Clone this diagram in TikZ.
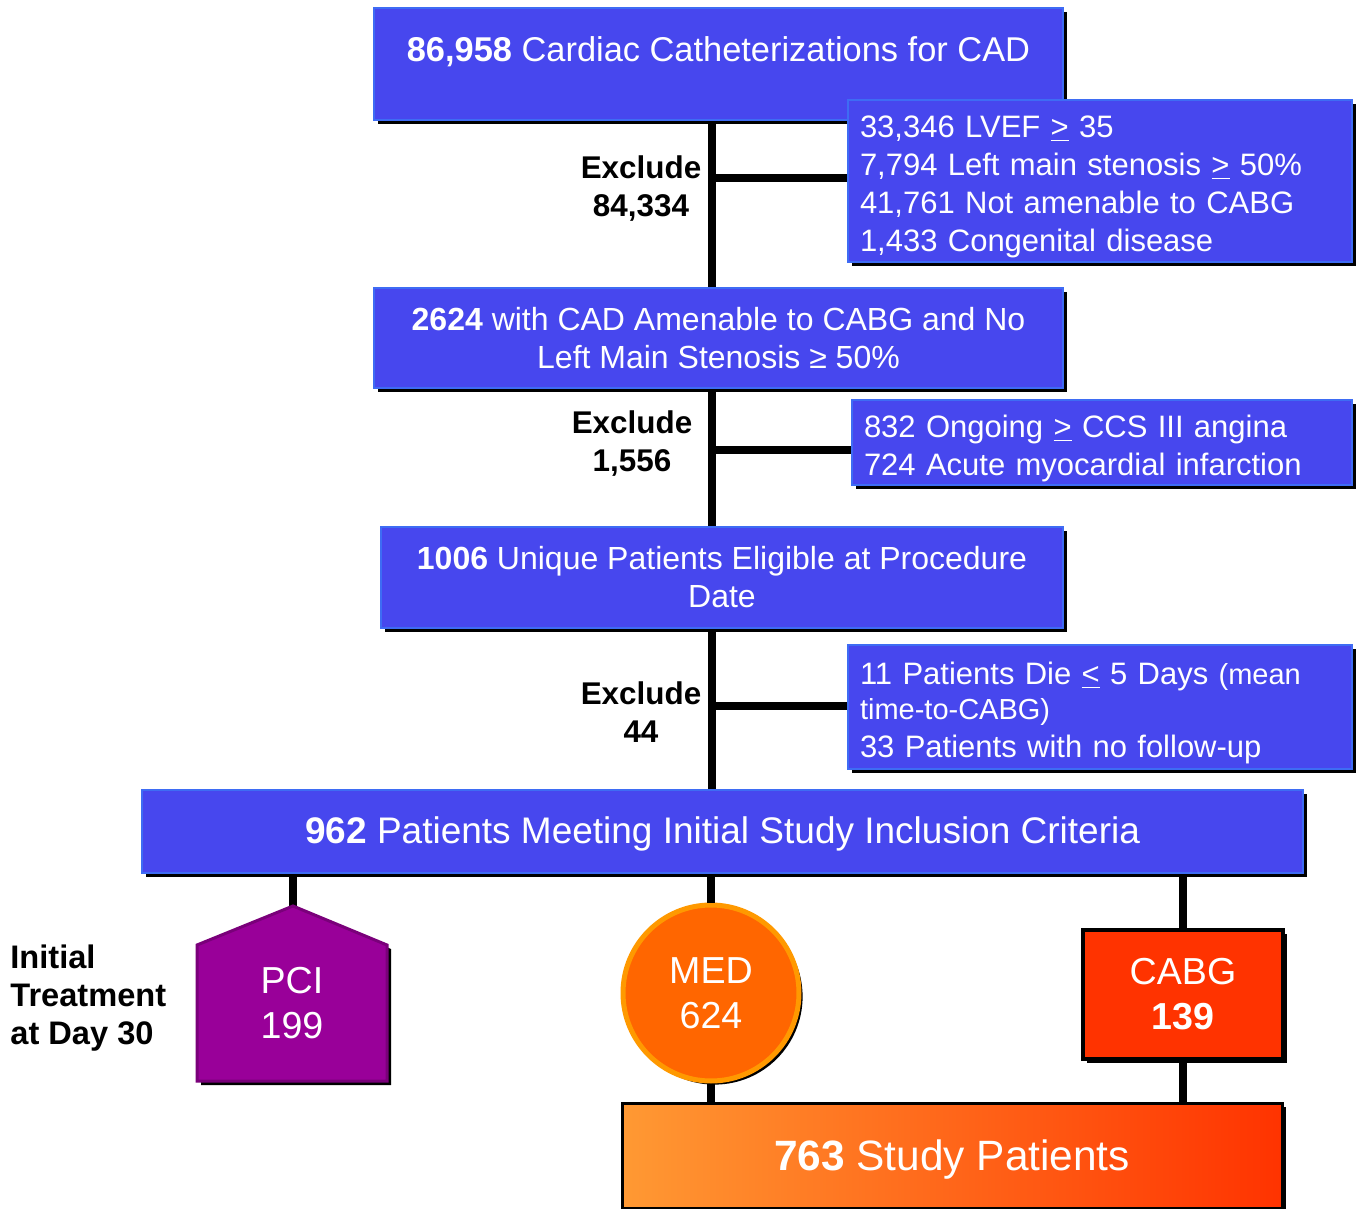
\documentclass[tikz,border=0pt]{standalone}
\usepackage{fontspec}
\setmainfont{Liberation Sans}
\usetikzlibrary{shadows}
\definecolor{boxblue}{HTML}{4747EE}
\definecolor{boxrim}{HTML}{3E6CF4}
\definecolor{pcipurple}{HTML}{990099}
\definecolor{pcirim}{HTML}{7A007A}
\definecolor{medorange}{HTML}{FF6600}
\definecolor{medrim}{HTML}{FF9900}
\definecolor{cabgred}{HTML}{FF3300}
\definecolor{studyleft}{HTML}{FF9933}
\newcommand{\geu}{\underline{>}}
\newcommand{\leu}{\underline{<}}
\tikzset{
  shad/.style={general shadow={fill=black,shadow xshift=1.8pt,shadow yshift=-1.8pt}},
  blubox/.style={shad,draw=boxrim,line width=1.2pt,fill=boxblue,text=white,inner sep=0pt,font=\fontsize{16}{19}\selectfont},
  exbox/.style={blubox,align=left,inner xsep=6pt,font=\fontsize{15.5}{19}\selectfont,
    execute at begin node=\rule{0pt}{17pt}},
  trunk/.style={line width=4pt},
  exlabel/.style={align=center,font=\fontsize{15.7}{19}\selectfont\bfseries},
  armbox/.style={shad,text=white,align=center,font=\fontsize{18.8}{22.5}\selectfont},
}

\begin{document}
\begin{tikzpicture}[x=0.5pt,y=-0.5pt]
\useasboundingbox (0,0) rectangle (1362,1209);

% flow boxes
\node[blubox,minimum width=344.5pt,text height=27pt,text depth=29pt,font=\fontsize{17.2}{20}\selectfont] (top) at (718.5,64)
  {\textbf{86,958} Cardiac Catheterizations for CAD};
\node[blubox,align=center,minimum width=344.5pt,minimum height=50pt] (elig) at (718.5,338)
  {\textbf{2624} with CAD Amenable to CABG and No\\Left Main Stenosis ≥ 50\%};
\node[blubox,align=center,minimum width=341pt,minimum height=50.5pt] (unique) at (722,577.5)
  {\textbf{1006} Unique Patients Eligible at Procedure\\Date};
\node[blubox,minimum width=580.5pt,minimum height=41.5pt,font=\fontsize{18.5}{20}\selectfont,
  execute at begin node=\rule{0pt}{16pt}] (incl) at (722.5,831.5)
  {\textbf{962} Patients Meeting Initial Study Inclusion Criteria};

% exclusions
\node[exbox,text width=240pt,minimum height=81pt] (excl1) at (1100,181)
  {33,346 LVEF \geu\ 35\\7,794 Left main stenosis \geu\ 50\%\\41,761 Not amenable to CABG\\1,433 Congenital disease};
\node[exbox,text width=238pt,minimum height=42.5pt] (excl2) at (1102,442.5)
  {832 Ongoing \geu\ CCS III angina\\724 Acute myocardial infarction};
\node[exbox,text width=240pt,minimum height=62pt] (excl3) at (1100,707)
  {11 Patients Die \leu\ 5 Days {\fontsize{14.5}{17.5}\selectfont(mean\\[-1.5pt]time-to-CABG)}\\33 Patients with no follow-up};

\node[exlabel] (ex1) at (641,189) {Exclude\\84,334};
\node[exlabel] (ex2) at (632,444) {Exclude\\1,556};
\node[exlabel] (ex3) at (641,712) {Exclude\\44};

% trunk
\coordinate (j1) at (712,178);
\coordinate (j2) at (712,450);
\coordinate (j3) at (712,706);
\draw[trunk] (top.south -| j1) -- (elig.north -| j1);
\draw[trunk] (elig.south -| j2) -- (unique.north -| j2);
\draw[trunk] (unique.south -| j3) -- (incl.north -| j3);
\draw[trunk] (j1) -- (excl1.west |- j1);
\draw[trunk] (j2) -- (excl2.west |- j2);
\draw[trunk] (j3) -- (excl3.west |- j3);

% treatment arms
\coordinate (pcitop) at (293,906);
\draw[trunk] (incl.south -| pcitop) -- (pcitop);
\fill[black] (201,949) -- (296,909) -- (391,949) -- (391,1085) -- (201,1085) -- cycle;
\draw[fill=pcipurple,draw=pcirim,line width=1.5pt] (197,945) -- (pcitop) -- (387,945) -- (387,1081) -- (197,1081) -- cycle;
\node[text=white,align=center,font=\fontsize{18.8}{22.5}\selectfont] (pci) at (292,1003) {PCI\\199};

\node[armbox,circle,fill=medorange,draw=medrim,line width=2.5pt,minimum size=88pt,inner sep=0pt] (med) at (711,993) {MED\\624};
\node[armbox,fill=cabgred,draw=black,line width=2pt,minimum width=100pt,minimum height=64.5pt] (cabg) at (1183,994.5)
  {CABG\\\textbf{139}};
\draw[trunk] (incl.south -| med) -- (med.north);
\draw[trunk] (incl.south -| cabg) -- (cabg.north);

\node[shad,draw=black,line width=1.5pt,left color=studyleft,right color=cabgred,text=white,
  minimum width=330pt,minimum height=52.5pt,font=\fontsize{21.2}{24}\selectfont,
  execute at begin node=\rule{0pt}{19pt}] (study) at (952,1156)
  {\textbf{763} Study Patients};
\draw[trunk] (med.south) -- (study.north -| med.south);
\draw[trunk] (cabg.south) -- (study.north -| cabg.south);

\node[anchor=west,align=left,inner sep=0pt,font=\fontsize{16.3}{19}\selectfont\bfseries] (day) at (10,998)
  {Initial\\Treatment\\at Day 30};
\end{tikzpicture}
\end{document}
